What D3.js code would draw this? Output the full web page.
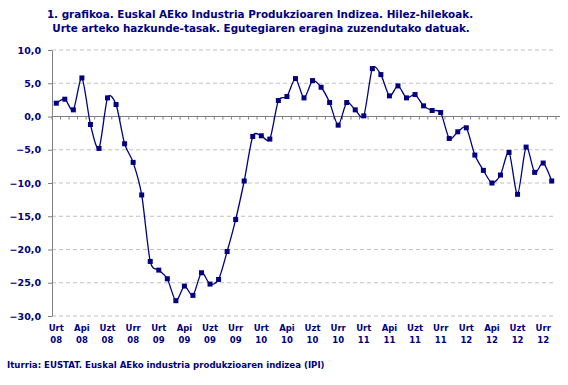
<!DOCTYPE html>
<html>
<head>
<meta charset="utf-8">
<script src="https://cdn.jsdelivr.net/npm/d3@7"></script>
<style>
  body { margin: 0; background: #fff; }
  svg { display: block; }
  text { font-family: "DejaVu Sans", Verdana, sans-serif; fill: #000080; font-weight: bold; }
</style>
</head>
<body>
<div id="chart"></div>
<script>
// hilabeteak (euskaraz) eta urteak
var monthNames = ["Urt", "Ots", "Mar", "Api", "Mai", "Eka", "Uzt", "Abu", "Ira", "Urr", "Aza", "Abe"];
var years = ["08", "09", "10", "11", "12"];
var yTicks = [10, 5, 0, -5, -10, -15, -20, -25, -30];

// urte arteko hazkunde-tasak, 2008 urt - 2012 aza
var values = [
  2.0, 2.6, 1.0, 5.8, -1.2, -4.8, 2.8, 1.8, -4.1, -6.9, -11.8, -21.8,
  -23.1, -24.4, -27.7, -25.5, -26.9, -23.5, -25.2, -24.5, -20.3, -15.5, -9.7, -3.0,
  -2.9, -3.4, 2.4, 3.0, 5.7, 2.8, 5.4, 4.4, 2.1, -1.3, 2.1, 1.0,
  0.1, 7.2, 6.3, 3.1, 4.6, 2.8, 3.3, 1.6, 0.9, 0.6, -3.3, -2.3,
  -1.7, -5.8, -8.1, -10.0, -8.8, -5.4, -11.7, -4.6, -8.4, -7.0, -9.7
];

var categories = [];
years.forEach(function (y) {
  monthNames.forEach(function (m) { categories.push({ month: m, year: y }); });
});
categories = categories.slice(0, values.length);

var W = 568, H = 385,
  margin = { left: 52, right: 12, top: 50, bottom: 69 },
  width = W - margin.left - margin.right,
  height = H - margin.top - margin.bottom;

var svg = d3.select("#chart").append("svg")
  .attr("width", W)
  .attr("height", H);

var g = svg.append("g").attr("transform", "translate(" + margin.left + "," + margin.top + ")");

var x = d3.scaleBand()
  .domain(d3.range(values.length))
  .range([0, width]);

var y = d3.scaleLinear()
  .domain([-30, 10])
  .range([height, 0]);

var cx = function (i) { return x(i) + x.bandwidth() / 2; };

var locale = d3.formatLocale({ decimal: ",", thousands: ".", grouping: [3], currency: ["", "€"] });
var fmt = locale.format(".1f");

// gridlines
g.selectAll(".grid")
  .data(yTicks.filter(function (d) { return d !== 0; }))
  .enter().append("line")
  .attr("x1", 0).attr("x2", width)
  .attr("y1", function (d) { return y(d); })
  .attr("y2", function (d) { return y(d); })
  .attr("stroke", "#c0c0c0")
  .attr("stroke-dasharray", "4,3");

// y axis
var yAxis = g.append("g")
  .call(d3.axisLeft(y).tickValues(yTicks).tickFormat(fmt).tickSize(4).tickSizeOuter(0));
yAxis.select(".domain").attr("stroke", "#808080");
yAxis.selectAll(".tick line").attr("stroke", "#808080");
yAxis.selectAll(".tick text")
  .attr("x", -11)
  .style("font-size", "9.5px");

// x axis at zero
var xAxisG = g.append("g").attr("transform", "translate(0," + y(0) + ")");
xAxisG.append("line")
  .attr("x1", 0).attr("x2", width + 4)
  .attr("stroke", "#808080");
xAxisG.selectAll(".tk")
  .data(d3.range(values.length + 1))
  .enter().append("line")
  .attr("x1", function (i) { return i * x.step(); })
  .attr("x2", function (i) { return i * x.step(); })
  .attr("y1", 0).attr("y2", 3)
  .attr("stroke", "#808080");

// category labels every 3 months
var lab = g.selectAll(".xlab")
  .data(d3.range(0, values.length, 3))
  .enter().append("text")
  .attr("text-anchor", "middle")
  .style("font-size", "8.5px")
  .attr("transform", function (i) { return "translate(" + cx(i) + "," + (height + 15) + ")"; });
lab.append("tspan").attr("x", 0).attr("y", 0).text(function (i) { return categories[i].month; });
lab.append("tspan").attr("x", 0).attr("y", 12).text(function (i) { return categories[i].year; });

// line
var line = d3.line()
  .x(function (d, i) { return cx(i); })
  .y(function (d) { return y(d); })
  .curve(d3.curveCardinal.tension(0.2));

g.append("path")
  .datum(values)
  .attr("d", line)
  .attr("fill", "none")
  .attr("stroke", "#000080")
  .attr("stroke-width", 1.3);

g.selectAll(".pt")
  .data(values)
  .enter().append("rect")
  .attr("x", function (d, i) { return cx(i) - 2.5; })
  .attr("y", function (d) { return y(d) - 2.5; })
  .attr("width", 5).attr("height", 5)
  .attr("fill", "#000080");

// title
svg.append("text")
  .attr("x", 260).attr("y", 18)
  .attr("text-anchor", "middle")
  .style("font-size", "10.4px")
  .text("1. grafikoa. Euskal AEko Industria Produkzioaren Indizea. Hilez-hilekoak.");
svg.append("text")
  .attr("x", 261).attr("y", 32)
  .attr("text-anchor", "middle")
  .style("font-size", "10.4px")
  .text("Urte arteko hazkunde-tasak. Egutegiaren eragina zuzendutako datuak.");

// source
svg.append("text")
  .attr("x", 7).attr("y", 368)
  .style("font-size", "8.6px")
  .text("Iturria: EUSTAT. Euskal AEko industria produkzioaren indizea (IPI)");
</script>
</body>
</html>
